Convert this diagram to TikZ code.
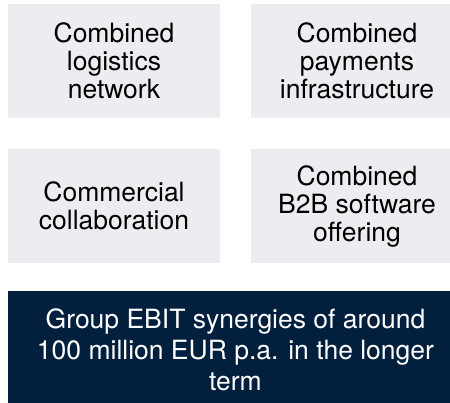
\documentclass[tikz,border=0pt]{standalone}
\usepackage{fontspec}
\setmainfont{TeX Gyre Heros}
\definecolor{boxgray}{RGB}{236, 237, 240}
\definecolor{synnavy}{RGB}{2, 31, 61}

\begin{document}
\begin{tikzpicture}[x=1pt, y=-1pt,
    areabox/.style={fill=boxgray, minimum width=212pt, minimum height=114pt, inner sep=0pt, align=center, font=\fontsize{26.5}{28}\selectfont},
    resultbox/.style={fill=synnavy, text=white, minimum width=455pt, minimum height=118pt, inner sep=0pt, align=center, font=\fontsize{26.5}{31}\selectfont}]
    \clip (0,0) rectangle (450,402);
    \node[areabox] (L) at (114,61) {Combined\\logistics\\network};
    \node[areabox] (P) at (357,61) {Combined\\payments\\infrastructure};
    \node[areabox] (C) at (114,206) {Commercial\\collaboration};
    \node[areabox] (S) at (357,206) {Combined\\B2B software\\offering};
    \node[resultbox] (G) at (235.5,350) {Group EBIT synergies of around\\100 million EUR p.a. in the longer\\term};
\end{tikzpicture}
\end{document}
